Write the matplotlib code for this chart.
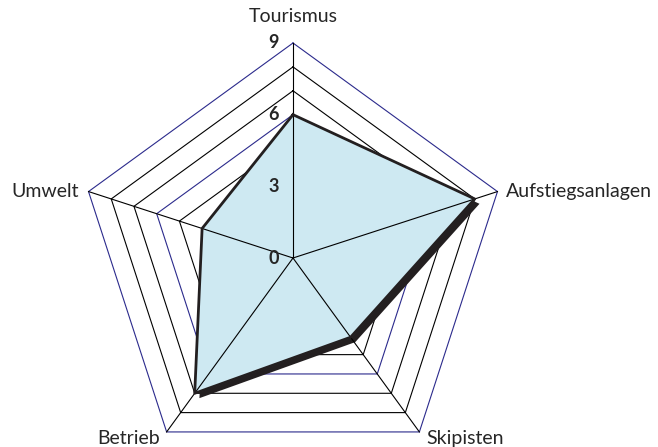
import numpy as np
import matplotlib
matplotlib.use("Agg")
import matplotlib.pyplot as plt
import matplotlib.patheffects as pe

# Kategorien und Werte
categories = ["Tourismus", "Aufstiegsanlagen", "Skipisten", "Betrieb", "Umwelt"]
values = [6, 8, 4.1, 7, 4]
tick_values = [0, 3, 6, 9]
r_max = 9

plt.rcParams['font.family'] = ['Lato', 'DejaVu Sans']

fig = plt.figure(figsize=(6.58, 4.47), dpi=100)
# Achse so platzieren, dass Mitte bei (293, 258) px und Radius 215 px
W, H = 658, 447
cx, cy, R = 293, 258, 215
ax = fig.add_axes([(cx - R) / W, (H - cy - R) / H, 2 * R / W, 2 * R / H],
                  projection='polar')
ax.set_theta_offset(np.pi / 2)
ax.set_theta_direction(-1)
ax.set_ylim(0, r_max)
ax.grid(False)
ax.spines['polar'].set_visible(False)
ax.patch.set_visible(False)
ax.set_xticks([])
ax.set_yticks([])

n = len(categories)
angles = np.linspace(0, 2 * np.pi, n, endpoint=False)
closed = np.append(angles, angles[0])

# Ringe
navy = '#2B2A8C'
for k in range(1, r_max + 1):
    col = navy if k % 3 == 0 else 'black'
    ax.plot(closed, [k] * (n + 1), color=col, lw=0.8, zorder=1, clip_on=False)

# Fläche mit Schatten
vals = values + values[:1]
ax.fill(closed, vals, color='#CEE9F2', zorder=2, clip_on=False,
        path_effects=[pe.SimplePatchShadow(offset=(3.4, -3.5), shadow_rgbFace='#231F20', alpha=1.0),
                      pe.Normal()])

# Speichen
for a in angles:
    ax.plot([a, a], [0, r_max], color='black', lw=0.8, zorder=3, clip_on=False)

ax.plot(closed, vals, color='#231F20', lw=2, zorder=4, clip_on=False)

# Achsenbeschriftung
for t in tick_values:
    ax.annotate(str(t), xy=(0, t), xytext=(-10, 0), textcoords='offset points',
                ha='right', va='center', fontsize=13, fontweight='bold',
                color='#262626', zorder=5, annotation_clip=False)

# Kategorien
lab_off = [(0, 19, 'center', 'center'), (6, 0, 'left', 'center'),
           (5, -5, 'left', 'center'), (-5, -5, 'right', 'center'),
           (-7, 0, 'right', 'center')]
for a, name, (dx, dy, ha, va) in zip(angles, categories, lab_off):
    ax.annotate(name, xy=(a, r_max), xytext=(dx, dy), textcoords='offset points',
                ha=ha, va=va, fontsize=14, color='#262626', annotation_clip=False)

fig.savefig("out.png", dpi=100)
